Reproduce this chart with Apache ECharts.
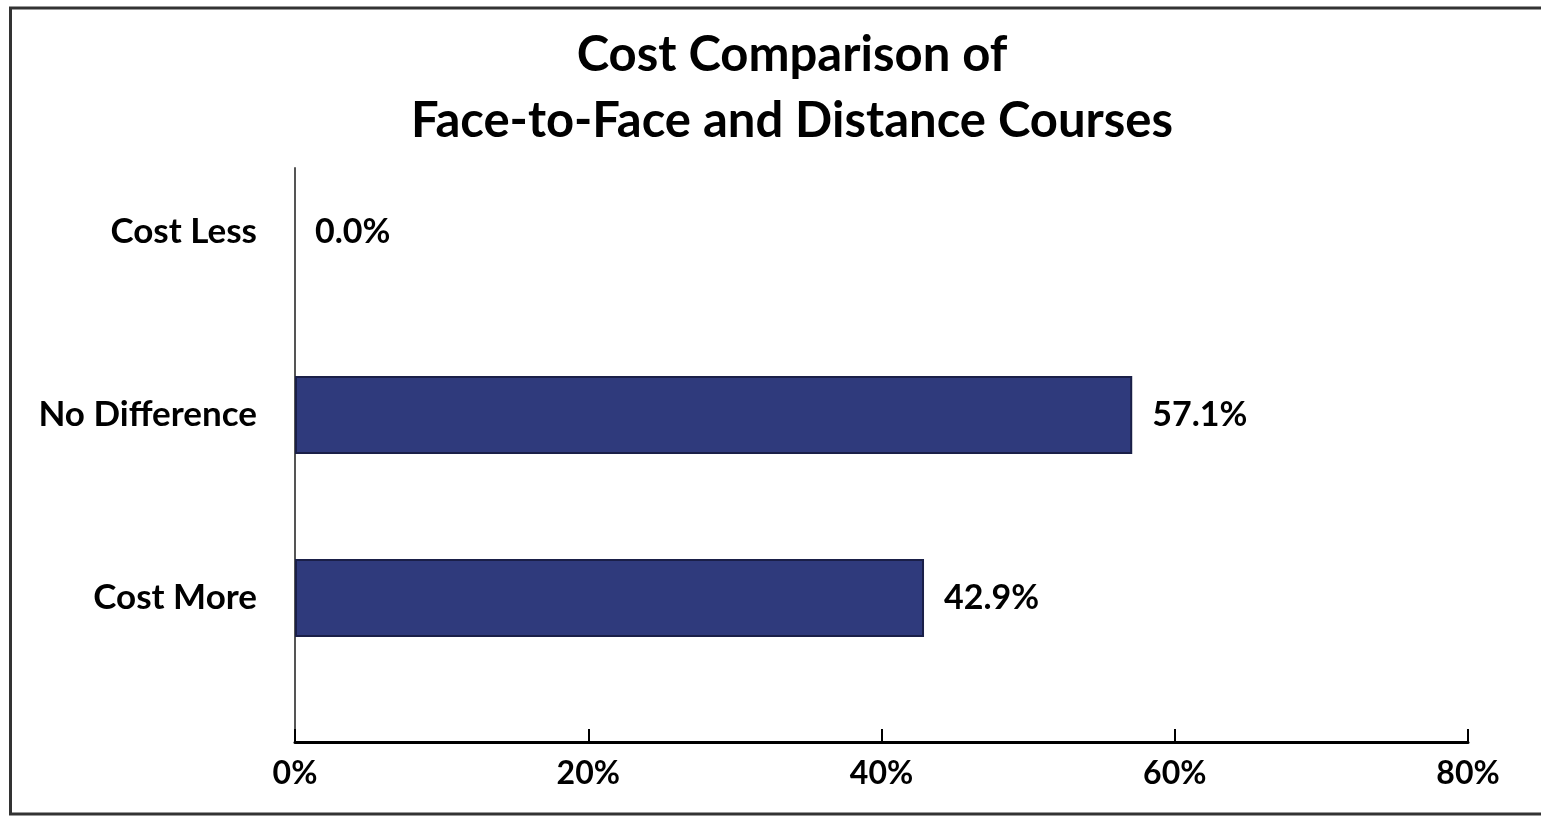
<!DOCTYPE html>
<html>
<head>
<meta charset="utf-8">
<script src="https://cdn.jsdelivr.net/npm/echarts@6/dist/echarts.min.js"></script>
<style>html,body{margin:0;padding:0;background:#fff;overflow:hidden}#c{width:1541px;height:816px}</style>
</head>
<body>
<div id="c"></div>
<script>
const titleLines = ['Cost Comparison of', 'Face-to-Face and Distance Courses'];
const categories = ['Cost Less', 'No Difference', 'Cost More'];
const values = [0.0, 57.1, 42.9];
const xTicks = [0, 20, 40, 60, 80];

const FONT = 'Lato';
const chart = echarts.init(document.getElementById('c'), null, {renderer: 'canvas'});
const axMin = xTicks[0], axMax = xTicks[xTicks.length - 1], axInt = xTicks[1] - xTicks[0];

chart.setOption({
  backgroundColor: '#fff',
  animation: false,
  title: {
    text: titleLines.join('\n'),
    left: 787, top: 17, textAlign: 'center',
    textStyle: {fontFamily: FONT, fontWeight: 'bold', fontSize: 49, lineHeight: 66, color: '#000'}
  },
  graphic: [{
    type: 'rect', shape: {x: 10.5, y: 8, width: 1700, height: 806},
    style: {fill: 'none', stroke: '#333', lineWidth: 3}, silent: true, z: 100
  }],
  grid: [
    {left: 295, right: 73, top: 168, bottom: 74, containLabel: false},
    {left: 295, right: 73, top: 140.5, bottom: 126.5, containLabel: false}
  ],
  xAxis: [
    {
      type: 'value', gridIndex: 0, min: axMin, max: axMax, interval: axInt,
      axisLine: {show: true, lineStyle: {color: '#000', width: 3}},
      axisTick: {show: true, inside: true, length: 13, lineStyle: {color: '#000', width: 2}},
      axisLabel: {formatter: '{value}%', margin: 16, fontFamily: FONT, fontWeight: 'bold', fontSize: 32, color: '#000'},
      splitLine: {show: false}
    },
    {
      type: 'value', gridIndex: 1, min: axMin, max: axMax, interval: axInt, show: false
    }
  ],
  yAxis: [
    {
      type: 'category', gridIndex: 0, data: categories, inverse: true,
      axisLine: {show: true, lineStyle: {color: '#555', width: 2}},
      axisTick: {show: false}, axisLabel: {show: false}, splitLine: {show: false}
    },
    {
      type: 'category', gridIndex: 1, data: categories, inverse: true,
      axisLine: {show: false}, axisTick: {show: false},
      axisLabel: {margin: 38, fontFamily: FONT, fontWeight: 'bold', fontSize: 35, color: '#000'},
      splitLine: {show: false}
    }
  ],
  series: [{
    type: 'bar', xAxisIndex: 1, yAxisIndex: 1,
    data: values.map(v => ({value: v, itemStyle: v === 0 ? {borderWidth: 0} : undefined})),
    barWidth: 78,
    itemStyle: {color: '#2F3A7C', borderColor: '#1a1f48', borderWidth: 2},
    label: {
      show: true, position: 'right', distance: 20,
      formatter: p => p.value.toFixed(1) + '%',
      fontFamily: FONT, fontWeight: 'bold', fontSize: 34, color: '#000'
    }
  }]
});
</script>
</body>
</html>
